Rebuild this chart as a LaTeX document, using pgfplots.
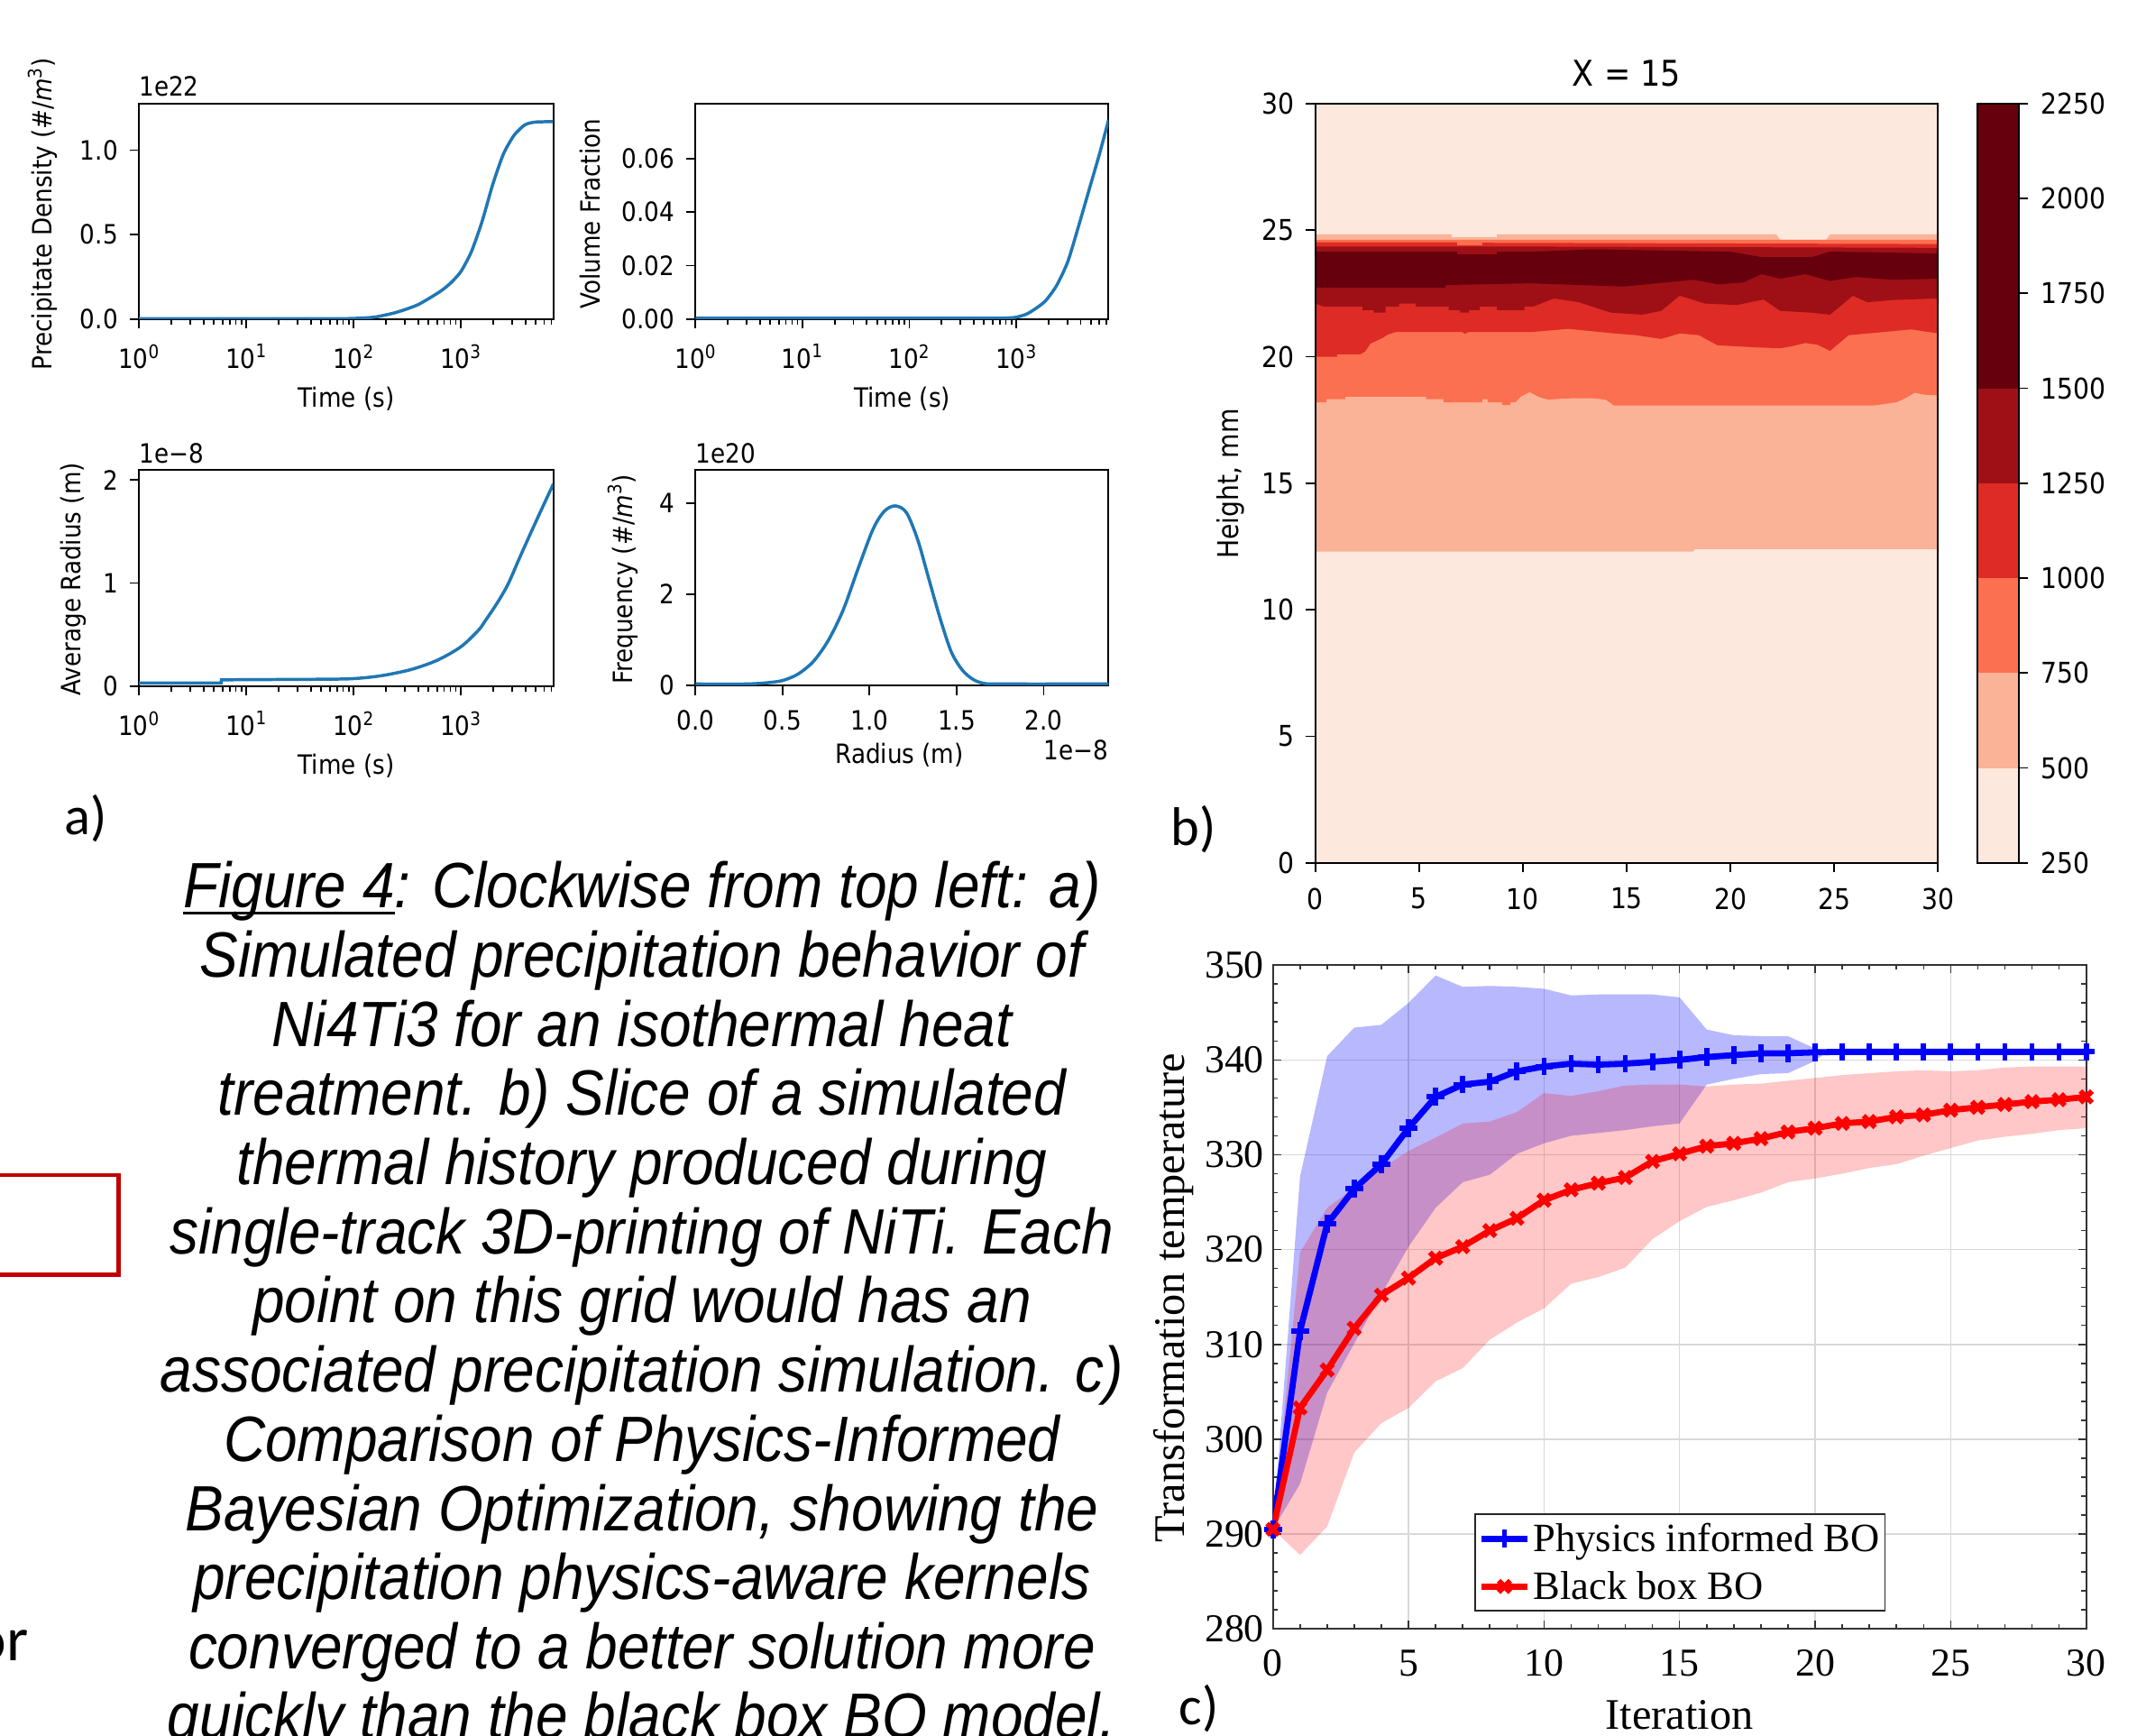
\documentclass[border=0pt]{standalone}
\usepackage{fontspec}
\usepackage{pgfplots}
\pgfplotsset{compat=1.18}
\newfontfamily\mpl[FakeStretch=0.89]{DejaVu Sans}
\newfontfamily\capf[FakeStretch=0.9]{Liberation Sans}
\newfontfamily\tnr{Liberation Serif}
\newfontfamily\calfont{Carlito}
\definecolor{mplblue}{HTML}{1F77B4}
\definecolor{rA}{HTML}{FDE8DE}
\definecolor{rB}{HTML}{FBB397}
\definecolor{rC}{HTML}{FB7050}
\definecolor{rD}{HTML}{DE2B25}
\definecolor{rE}{HTML}{9E1016}
\definecolor{rF}{HTML}{67000D}
\definecolor{boxred}{HTML}{C00000}
\newcommand{\tp}[1]{10\textsuperscript{#1}}
\newcommand{\mplA}{\mpl\fontsize{19.5}{23}\selectfont}
\newcommand{\mplB}{\mpl\fontsize{21}{25}\selectfont}
\newcommand{\mplT}{\mpl\fontsize{26}{30}\selectfont}
\newcommand{\tnrT}{\tnr\fontsize{29}{33}\selectfont}
\newcommand{\tnrL}{\tnr\fontsize{32}{36}\selectfont}
\newcommand{\tnrG}{\tnr\fontsize{29.5}{34}\selectfont}
\newcommand{\capfont}{\capf\itshape\fontsize{47}{52}\selectfont}
\newcommand{\ul}[1]{\setbox0\hbox{#1}\rlap{\rule[-5pt]{\wd0}{2.2pt}}#1}
\pgfplotsset{
  mpl/.style={scale only axis, anchor=north west, scaled ticks=false,
    axis line style={line width=1.3pt, black},
    tick align=outside, major tick length=7pt, minor tick length=4pt,
    every tick/.style={black, line width=1.2pt},
    tick label style={font=\mplA},
    xticklabel style={yshift=-8pt}, yticklabel style={xshift=-5pt},
    xtick pos=bottom, ytick pos=left},
  timeticks/.style={xmin=1, xmax=7300,
    xtick={1,10,100,1000}, xticklabels={\tp{0},\tp{1},\tp{2},\tp{3}},
    minor xtick={2,3,4,5,6,7,8,9,20,30,40,50,60,70,80,90,200,300,400,500,600,700,800,900,2000,3000,4000,5000,6000,7000}},
}
\begin{document}
\begin{tikzpicture}
\path[use as bounding box] (0pt,0pt) rectangle (1568pt,-1273pt);
\fill[white] (0pt,0pt) rectangle (1568pt,-1273pt);

% ---------- panel a1
\begin{axis}[xmode=log, mpl, timeticks, at={(102pt,-76pt)}, width=304pt, height=158.1pt,
  ymin=0, ymax=1.275, ytick={0,0.5,1}, yticklabels={0.0,0.5,1.0}]
\addplot[mplblue, line width=2.3pt, smooth, tension=0.4] coordinates {
(1,0.003)(60,0.003)(100,0.004)(158.5,0.012)(251.2,0.04)(398.1,0.085)(631,0.16)(794.3,0.21)(1000,0.28)(1259,0.40)(1585,0.58)(1995,0.80)(2512,0.98)(3162,1.09)(3981,1.15)(5012,1.166)(7300,1.168)};
\end{axis}
% ---------- panel a2
\begin{axis}[xmode=log, mpl, timeticks, at={(510.3pt,-76pt)}, width=303.1pt, height=158.1pt,
  ymin=0, ymax=0.0806, ytick={0,0.02,0.04,0.06}, yticklabels={0.00,0.02,0.04,0.06}]
\addplot[mplblue, line width=2.3pt, smooth, tension=0.4] coordinates {
(1,0.0003)(500,0.0003)(800,0.0004)(1000,0.0007)(1253,0.0019)(1500,0.0038)(1875,0.0068)(2388,0.0126)(3041,0.0216)(3873,0.0355)(4932,0.050)(6026,0.062)(7300,0.0745)};
\end{axis}
% ---------- panel a3
\begin{axis}[xmode=log, mpl, timeticks, at={(102pt,-344.7pt)}, width=304pt, height=158.6pt,
  ymin=0, ymax=2.097, ytick={0,1,2}, yticklabels={0,1,2}]
\addplot[mplblue, line width=2.3pt] coordinates {
(1,0.03)(5.85,0.03)(5.86,0.06)(10,0.062)};
\addplot[mplblue, line width=2.3pt, smooth, tension=0.5] coordinates {
(10,0.062)(50,0.066)(100,0.072)(181,0.10)(344,0.16)(603,0.25)(1000,0.38)(1459,0.54)(1711,0.64)(2200,0.81)(2766,0.99)(3524,1.24)(4471,1.48)(5703,1.72)(7300,1.96)};
\end{axis}
% ---------- panel a4
\begin{axis}[mpl, at={(510.3pt,-344.7pt)}, width=303.1pt, height=158.1pt,
  xmin=0, xmax=2.373, ymin=0, ymax=4.73,
  xtick={0,0.5,1,1.5,2}, xticklabels={0.0,0.5,1.0,1.5,2.0},
  ytick={0,2,4}, yticklabels={0,2,4}]
\addplot[mplblue, line width=2.3pt, smooth, tension=0.5] coordinates {
(0,0.03)(0.29,0.03)(0.418,0.06)(0.504,0.11)(0.59,0.25)(0.676,0.52)(0.762,0.98)(0.848,1.65)(0.933,2.55)(1.019,3.42)(1.084,3.82)(1.148,3.94)(1.212,3.79)(1.277,3.19)(1.341,2.33)(1.406,1.46)(1.47,0.73)(1.534,0.33)(1.599,0.12)(1.663,0.04)(1.75,0.03)(2.373,0.03)};
\end{axis}

% labels panel a
\node[rotate=90, font=\mplA] at (31.5pt,-157pt) {Precipitate Density (\#/\textit{m}\textsuperscript{3})};
\node[rotate=90, font=\mplA] at (433pt,-157pt) {Volume Fraction};
\node[rotate=90, font=\mplA] at (54pt,-425pt) {Average Radius (m)};
\node[rotate=90, font=\mplA] at (457pt,-425pt) {Frequency (\#/\textit{m}\textsuperscript{3})};
\node[anchor=base west, font=\mplA, inner sep=0pt] at (102pt,-70.5pt) {1e22};
\node[anchor=base west, font=\mplA, inner sep=0pt] at (102pt,-339.5pt) {1e−8};
\node[anchor=base west, font=\mplA, inner sep=0pt] at (510.3pt,-339.5pt) {1e20};
\node[anchor=base east, font=\mplA, inner sep=0pt] at (813.4pt,-557.5pt) {1e−8};
\node[anchor=base, font=\mplA, inner sep=0pt] at (254pt,-299pt) {Time (s)};
\node[anchor=base, font=\mplA, inner sep=0pt] at (662pt,-299pt) {Time (s)};
\node[anchor=base, font=\mplA, inner sep=0pt] at (254pt,-568pt) {Time (s)};
\node[anchor=base, font=\mplA, inner sep=0pt] at (660pt,-560pt) {Radius (m)};

% ---------- panel b
\begin{axis}[mpl, at={(965pt,-76pt)}, width=457pt, height=557pt,
  tick label style={font=\mplB}, axis on top,
  xmin=0, xmax=30, ymin=0, ymax=30,
  xtick={0,5,10,15,20,25,30}, xticklabels={0,5,10,15,20,25,30},
  ytick={0,5,10,15,20,25,30}, yticklabels={0,5,10,15,20,25,30}]
\addplot[fill=rA, draw=none] coordinates {(0,0)(30,0)(30,30)(0,30)};
\addplot[fill=rB, draw=none] coordinates {(0,12.3)(18.2,12.3)(18.3,12.4)(30,12.4)
 (30,24.83)(24.8,24.83)(24.6,24.62)(22.4,24.62)(22.2,24.83)(8.75,24.83)(8.75,24.73)(6.57,24.73)(6.57,24.83)(0,24.83)};
\addplot[fill=rC, draw=none] coordinates {(0,18.2)(0.54,18.2)(0.54,18.32)(1.44,18.32)(1.44,18.42)(5.34,18.42)(5.34,18.32)(6.18,18.32)(6.18,18.2)(8.05,18.2)(8.05,18.32)(8.31,18.32)(8.31,18.2)(9.0,18.2)(9.0,18.09)(9.4,18.09)(9.4,18.2)(9.64,18.2)(9.9,18.42)(10.32,18.6)(10.8,18.4)(11.23,18.3)(12.0,18.35)(13.34,18.36)(14.0,18.3)(14.4,18.07)(26.92,18.07)(28.0,18.2)(28.43,18.36)(28.89,18.58)(29.3,18.5)(30,18.47)
 (30,24.62)(0,24.62)};
\addplot[fill=rD, draw=none] coordinates {(0,20.0)(1.05,20.0)(1.05,20.09)(2.16,20.09)(2.4,20.2)(2.67,20.52)(3.24,20.74)(3.49,20.87)(3.9,20.98)(7.08,20.98)(7.2,20.9)(7.41,20.98)(10.5,20.98)(12.2,21.1)(14.4,20.92)(15.45,20.85)(16.66,20.7)(17.56,20.92)(18.47,20.85)(19.38,20.45)(21.2,20.37)(22.4,20.33)(23.0,20.42)(23.6,20.54)(24.2,20.47)(24.8,20.23)(25.7,20.85)(27.2,20.96)(28.7,21.08)(30,20.92)
 (30,24.45)(8.05,24.5)(8.05,24.40)(6.83,24.40)(6.83,24.52)(0,24.52)};
\addplot[fill=rE, draw=none] coordinates {(0,22.1)(0.42,21.98)(2.28,21.98)(2.28,21.84)(2.81,21.84)(2.81,21.74)(3.39,21.74)(3.39,21.98)(4.04,21.98)(4.04,22.10)(4.84,22.10)(4.84,21.98)(6.43,21.98)(6.43,21.84)(6.98,21.84)(6.98,21.74)(7.41,21.74)(7.41,21.84)(7.92,21.84)(7.92,21.98)(8.75,21.98)(8.75,21.84)(10.08,21.84)(10.08,21.98)(10.5,21.98)(11.5,22.3)(12.7,22.15)(14.25,21.74)(15.75,21.66)(16.66,21.81)(17.56,22.41)(18.77,22.1)(20.3,22.04)(21.6,22.26)(22.4,21.81)(23.9,21.74)(24.8,21.66)(25.9,22.41)(26.6,22.15)(27.8,22.24)(30,22.3)
 (30,24.3)(10.5,24.35)(0,24.35)};
\addplot[fill=rF, draw=none] coordinates {(0,22.73)(6.28,22.73)(6.28,22.83)(10.32,22.9)(14.86,22.77)(18.2,23.04)(19.4,22.86)(20.6,22.93)(21.5,23.26)(22.4,23.08)(23.6,23.26)(24.8,22.99)(26.0,23.15)(27.8,23.04)(30,23.08)
 (30,24.08)(24.8,24.15)(23.9,23.93)(21.5,23.93)(20.0,24.15)(13.34,24.24)(10.5,24.15)(8.75,24.15)(8.75,24.04)(6.83,24.04)(6.83,24.15)(0,24.15)};
\end{axis}
% colorbar
\begin{axis}[mpl, at={(1451pt,-76pt)}, width=30pt, height=557pt,
  tick label style={font=\mplB}, axis on top,
  xmin=0, xmax=1, ymin=250, ymax=2250, xtick=\empty,
  ytick={250,500,750,1000,1250,1500,1750,2000,2250},
  yticklabels={250,500,750,1000,1250,1500,1750,2000,2250},
  ytick pos=right, yticklabel pos=right, yticklabel style={xshift=11pt}]
\addplot[fill=rA, draw=none] coordinates {(0,250)(1,250)(1,500)(0,500)};
\addplot[fill=rB, draw=none] coordinates {(0,500)(1,500)(1,750)(0,750)};
\addplot[fill=rC, draw=none] coordinates {(0,750)(1,750)(1,1000)(0,1000)};
\addplot[fill=rD, draw=none] coordinates {(0,1000)(1,1000)(1,1250)(0,1250)};
\addplot[fill=rE, draw=none] coordinates {(0,1250)(1,1250)(1,1500)(0,1500)};
\addplot[fill=rF, draw=none] coordinates {(0,1500)(1,1500)(1,2250)(0,2250)};
\end{axis}
\node[anchor=base, font=\mplT, inner sep=0pt] at (1193.5pt,-63pt) {X = 15};
\node[rotate=90, font=\mplB] at (903pt,-355pt) {Height, mm};

% ---------- panel c
\begin{axis}[scale only axis, anchor=north west, at={(934pt,-708pt)},
  width=596.7pt, height=487pt, scaled ticks=false,
  xmin=0, xmax=30, ymin=280, ymax=350,
  xtick={0,5,10,15,20,25,30}, xticklabels={0,5,10,15,20,25,30},
  ytick={280,290,300,310,320,330,340,350},
  yticklabels={280,290,300,310,320,330,340,350},
  minor x tick num=4, minor y tick num=4,
  tick align=inside, major tick length=6pt, minor tick length=3.5pt,
  grid=major, major grid style={black!15, line width=1pt},
  axis line style={line width=1.2pt, black!80},
  every tick/.style={black!80, line width=1pt},
  tick label style={font=\tnrT},
  xticklabel style={yshift=-12pt}, yticklabel style={xshift=-3pt},
  legend style={at={(0.248,0.1745)}, anchor=north west, draw=black!85,
    line width=1.2pt, font=\tnrG, inner xsep=2pt, inner ysep=5pt, row sep=9pt, fill=white},
  legend cell align=left,
  legend image code/.code={\draw[mark repeat=2,mark phase=2,#1] plot coordinates {(0pt,0pt) (17pt,0pt) (34pt,0pt)};}]
\addplot[forget plot, fill=blue, fill opacity=0.28, draw=none] coordinates {
(0,290.5)(1,327.7)(2,340.4)(3,343.4)(4,343.7)(5,346.0)(6,348.9)(7,347.7)(8,347.8)(9,347.7)(10,347.5)(11,346.8)(12,346.9)(13,346.9)(14,346.9)(15,346.6)(16,343.2)(17,342.6)(18,342.5)(19,342.5)(20,341.2)(20.5,341.0)
(20,339.9)(19,338.6)(18,338.5)(17,338.0)(16,337.4)(15,333.3)(14,333.0)(13,332.6)(12,332.3)(11,332.0)(10,331.2)(9,330.1)(8,327.9)(7,327.1)(6,324.4)(5,320.3)(4,315.3)(3,310.1)(2,304.9)(1,295.3)(0,290.5)};
\addplot[forget plot, fill=red, fill opacity=0.22, draw=none] coordinates {
(0,290.5)(1,319.7)(2,324.4)(3,326.5)(4,328.5)(5,330.4)(6,331.8)(7,333.3)(8,333.5)(9,334.5)(10,336.5)(11,336.2)(12,336.7)(13,337.3)(14,337.4)(15,337.4)(16,337.2)(17,337.4)(18,337.5)(19,337.8)(20,338.1)(21,338.4)(22,338.6)(23,338.8)(24,338.9)(25,338.8)(26,338.9)(27,339.2)(28,339.3)(29,339.3)(30,339.3)
(30,332.8)(29,332.6)(28,332.2)(27,331.9)(26,331.5)(25,330.7)(24,329.9)(23,329.0)(22,328.6)(21,328.0)(20,327.5)(19,327.1)(18,326.0)(17,325.2)(16,324.5)(15,323.0)(14,321.1)(13,318.1)(12,317.1)(11,316.4)(10,313.8)(9,312.3)(8,310.5)(7,307.5)(6,306.1)(5,303.3)(4,301.7)(3,298.6)(2,290.8)(1,287.8)(0,290.5)};
\addplot[blue, line width=4.5pt, mark=+, mark size=6.5pt, mark options={line width=3.8pt, solid}] coordinates {
(0,290.5)(1,311.4)(2,322.7)(3,326.4)(4,329.0)(5,332.8)(6,336.1)(7,337.4)(8,337.7)(9,338.8)(10,339.3)(11,339.6)(12,339.5)(13,339.6)(14,339.8)(15,340.0)(16,340.3)(17,340.5)(18,340.7)(19,340.7)(20,340.8)(21,340.85)(22,340.85)(23,340.85)(24,340.85)(25,340.85)(26,340.85)(27,340.85)(28,340.85)(29,340.85)(30,340.85)};
\addlegendentry{Physics informed BO}
\addplot[red, line width=4.5pt, mark=x, mark size=6pt, mark options={line width=3.8pt, solid}] coordinates {
(0,290.5)(1,303.3)(2,307.3)(3,311.7)(4,315.2)(5,317.0)(6,319.1)(7,320.3)(8,322.0)(9,323.3)(10,325.2)(11,326.3)(12,327.0)(13,327.6)(14,329.3)(15,330.1)(16,330.9)(17,331.2)(18,331.7)(19,332.4)(20,332.8)(21,333.3)(22,333.5)(23,334.0)(24,334.2)(25,334.7)(26,335.0)(27,335.3)(28,335.6)(29,335.8)(30,336.1)};
\addlegendentry{Black box BO}
\end{axis}
\node[font=\tnrL] at (1232.3pt,-1258pt) {Iteration};
\node[rotate=90, font=\tnrL] at (861pt,-952pt) {Transformation temperature};

% ---------- panel letters and stray text
\node[anchor=base west, font=\calfont\fontsize{40}{46}\selectfont, inner sep=0pt] at (47pt,-612pt) {a)};
\node[anchor=base west, font=\calfont\fontsize{40}{46}\selectfont, inner sep=0pt] at (859pt,-620pt) {b)};
\node[anchor=base west, font=\calfont\fontsize{40}{46}\selectfont, inner sep=0pt] at (865pt,-1265pt) {c)};
\node[anchor=base east, font=\calfont\fontsize{46}{52}\selectfont, inner sep=0pt] at (21pt,-1218pt) {or};
\draw[boxred, line width=3pt] (-20pt,-862pt) rectangle (87pt,-935pt);

% ---------- caption
\begin{scope}[every node/.style={anchor=base, font=\capfont, inner sep=0pt}]
\node at (471pt,-666pt) {\ul{Figure 4}: Clockwise from top left: a)};
\node at (471pt,-716.75pt) {Simulated precipitation behavior of};
\node at (471pt,-767.5pt) {Ni4Ti3 for an isothermal heat};
\node at (471pt,-818.25pt) {treatment. b) Slice of a simulated};
\node at (471pt,-869pt) {thermal history produced during};
\node at (471pt,-919.75pt) {single-track 3D-printing of NiTi. Each};
\node at (471pt,-970.5pt) {point on this grid would has an};
\node at (471pt,-1021.25pt) {associated precipitation simulation. c)};
\node at (471pt,-1072pt) {Comparison of Physics-Informed};
\node at (471pt,-1122.75pt) {Bayesian Optimization, showing the};
\node at (471pt,-1173.5pt) {precipitation physics-aware kernels};
\node at (471pt,-1224.25pt) {converged to a better solution more};
\node at (471pt,-1275pt) {quickly than the black box BO model.};
\end{scope}
\end{tikzpicture}
\end{document}
